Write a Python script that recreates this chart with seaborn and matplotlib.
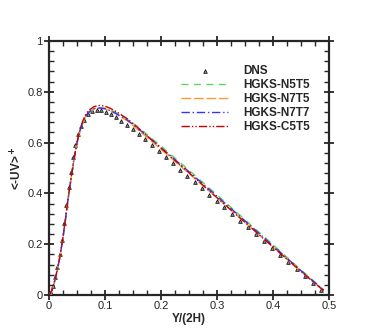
import numpy as np
import pandas as pd
import seaborn as sns
import matplotlib.pyplot as plt
from matplotlib.ticker import MultipleLocator

# DNS data (triangles)
dns_x = [0.003, 0.007, 0.011, 0.015, 0.019, 0.023, 0.027, 0.031, 0.035, 0.039,
         0.043, 0.047, 0.052, 0.057, 0.063, 0.070, 0.077, 0.085, 0.093, 0.101,
         0.110, 0.119, 0.129, 0.139, 0.150, 0.161, 0.172, 0.184, 0.196, 0.208,
         0.221, 0.234, 0.247, 0.260, 0.273, 0.286, 0.299, 0.313, 0.327, 0.341,
         0.355, 0.369, 0.384, 0.398, 0.413, 0.427, 0.442, 0.457, 0.471, 0.486]
dns_y = [0.010, 0.035, 0.070, 0.110, 0.160, 0.215, 0.285, 0.355, 0.425, 0.485,
         0.545, 0.592, 0.635, 0.665, 0.690, 0.712, 0.724, 0.729, 0.727, 0.721,
         0.711, 0.700, 0.686, 0.671, 0.654, 0.634, 0.613, 0.590, 0.567, 0.544,
         0.519, 0.494, 0.470, 0.445, 0.420, 0.395, 0.371, 0.345, 0.319, 0.293,
         0.267, 0.241, 0.213, 0.187, 0.159, 0.132, 0.104, 0.076, 0.049, 0.021]

# model profiles on a common grid
grid_x = [0.0, 0.005, 0.01, 0.015, 0.02, 0.025, 0.03, 0.035, 0.04, 0.045,
          0.05, 0.055, 0.06, 0.065, 0.07, 0.08, 0.09, 0.10, 0.11, 0.12,
          0.14, 0.16, 0.18, 0.20, 0.25, 0.30, 0.35, 0.40, 0.45, 0.49]
n5t5_y = [0.0, 0.015, 0.050, 0.095, 0.150, 0.220, 0.300, 0.385, 0.460, 0.530,
          0.592, 0.640, 0.675, 0.700, 0.716, 0.732, 0.737, 0.735, 0.728, 0.718,
          0.693, 0.659, 0.623, 0.586, 0.491, 0.394, 0.296, 0.198, 0.099, 0.022]
n7t5_y = [0.0, 0.018, 0.055, 0.100, 0.158, 0.228, 0.310, 0.395, 0.470, 0.540,
          0.600, 0.645, 0.678, 0.702, 0.718, 0.733, 0.737, 0.733, 0.724, 0.712,
          0.685, 0.648, 0.611, 0.573, 0.478, 0.382, 0.286, 0.189, 0.093, 0.020]
n7t7_y = [0.0, 0.018, 0.055, 0.100, 0.158, 0.228, 0.310, 0.395, 0.470, 0.540,
          0.600, 0.645, 0.678, 0.702, 0.718, 0.733, 0.736, 0.733, 0.725, 0.714,
          0.688, 0.653, 0.617, 0.580, 0.485, 0.389, 0.292, 0.194, 0.096, 0.020]
c5t5_y = [0.0, 0.018, 0.055, 0.100, 0.158, 0.228, 0.310, 0.395, 0.470, 0.540,
          0.600, 0.648, 0.683, 0.708, 0.725, 0.741, 0.746, 0.743, 0.734, 0.722,
          0.693, 0.656, 0.617, 0.578, 0.481, 0.383, 0.286, 0.189, 0.093, 0.018]

names = ["HGKS-N5T5", "HGKS-N7T5", "HGKS-N7T7", "HGKS-C5T5"]
colors = ["#55dd55", "#ff9933", "#3333ff", "#cc0000"]
dashes = [(5, 4), (7, 2), (6, 2, 1, 2), (6, 1.5, 1, 1.5, 1, 1.5)]

sns.set_style("ticks")
plt.rcParams["font.family"] = ["Liberation Sans", "DejaVu Sans"]
plt.rcParams["mathtext.default"] = "bf"

fig = plt.figure(figsize=(3.74, 3.32), dpi=100)
ax = fig.add_axes([0.131, 0.111, 0.749, 0.766])

sns.scatterplot(x=dns_x, y=dns_y, marker="^", s=7, color="#888888",
                edgecolor="black", linewidth=0.5, label="DNS", ax=ax, zorder=3)

for name, ys, c, d in zip(names, [n5t5_y, n7t5_y, n7t7_y, c5t5_y], colors, dashes):
    df = pd.DataFrame({"x": grid_x, "y": ys})
    sns.lineplot(data=df, x="x", y="y", color=c, linewidth=1.0,
                 label=name, ax=ax, zorder=4)
    ax.lines[-1].set_dashes(d)

ax.set_xlim(0, 0.5)
ax.set_ylim(0, 1)
ax.xaxis.set_major_locator(MultipleLocator(0.1))
ax.xaxis.set_minor_locator(MultipleLocator(0.025))
ax.yaxis.set_major_locator(MultipleLocator(0.2))
ax.yaxis.set_minor_locator(MultipleLocator(0.04))
ax.xaxis.set_major_formatter(plt.FuncFormatter(lambda v, p: f"{v:g}"))
ax.yaxis.set_major_formatter(plt.FuncFormatter(lambda v, p: f"{v:g}"))
ax.tick_params(which="major", direction="inout", length=7, width=1.3,
               labelsize=8, top=True, right=True, pad=1)
ax.tick_params(which="minor", direction="in", length=3.5, width=1.0,
               top=True, right=True)
for s in ax.spines.values():
    s.set_linewidth(1.6)

ax.set_xlabel("Y/(2H)", fontsize=8.5, fontweight="bold", labelpad=1)
ax.set_ylabel(r"<-UV>$^+$", fontsize=8.5, fontweight="bold", labelpad=2)

leg = ax.legend(loc="upper left", bbox_to_anchor=(0.471, 0.905), frameon=False,
                prop={"weight": "bold", "size": 8.5}, handlelength=4.0,
                labelspacing=0.18, handletextpad=1.3, borderpad=0,
                borderaxespad=0, scatterpoints=1)

fig.savefig("out.png", dpi=100)
